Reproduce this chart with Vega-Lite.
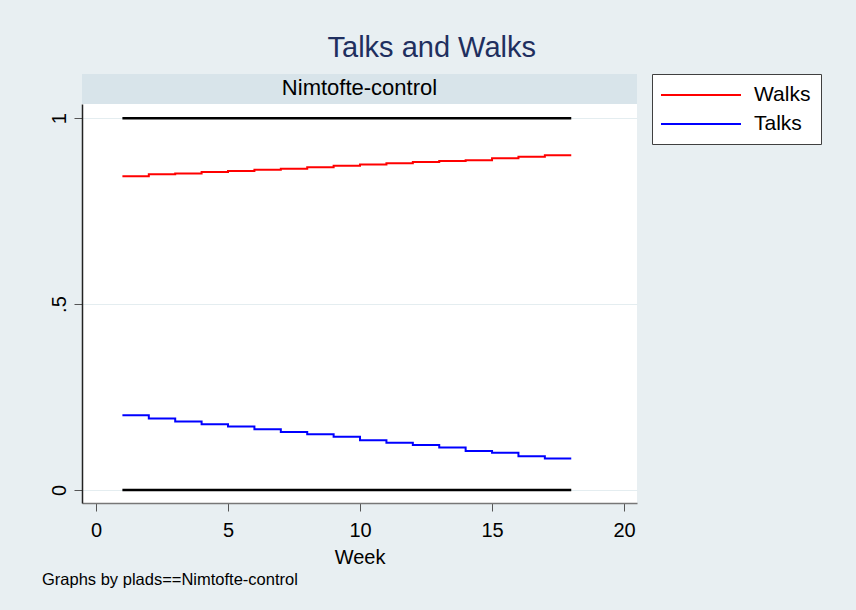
{
  "$schema": "https://vega.github.io/schema/vega-lite/v6.json",
  "background": "#e8eff2",
  "padding": {"left": 42, "top": 33, "right": 34, "bottom": 22},
  "title": {
    "text": "Talks and Walks",
    "fontSize": 29,
    "font": "Liberation Sans",
    "fontWeight": "normal",
    "color": "#1f2f5f",
    "anchor": "middle",
    "frame": "bounds",
    "offset": 11
  },
  "datasets": {
    "strip": [{"panel": "Nimtofte-control"}],
    "series": [
      {"series": "upper", "kind": "bound", "week": 1, "value": 1},
      {"series": "upper", "kind": "bound", "week": 18, "value": 1},
      {"series": "lower", "kind": "bound", "week": 1, "value": 0},
      {"series": "lower", "kind": "bound", "week": 18, "value": 0},
      {"series": "Walks", "kind": "rate", "week": 1, "value": 0.844},
      {"series": "Walks", "kind": "rate", "week": 2, "value": 0.849},
      {"series": "Walks", "kind": "rate", "week": 3, "value": 0.851},
      {"series": "Walks", "kind": "rate", "week": 4, "value": 0.855},
      {"series": "Walks", "kind": "rate", "week": 5, "value": 0.858},
      {"series": "Walks", "kind": "rate", "week": 6, "value": 0.861},
      {"series": "Walks", "kind": "rate", "week": 7, "value": 0.864},
      {"series": "Walks", "kind": "rate", "week": 8, "value": 0.868},
      {"series": "Walks", "kind": "rate", "week": 9, "value": 0.872},
      {"series": "Walks", "kind": "rate", "week": 10, "value": 0.875},
      {"series": "Walks", "kind": "rate", "week": 11, "value": 0.879},
      {"series": "Walks", "kind": "rate", "week": 12, "value": 0.882},
      {"series": "Walks", "kind": "rate", "week": 13, "value": 0.885},
      {"series": "Walks", "kind": "rate", "week": 14, "value": 0.887},
      {"series": "Walks", "kind": "rate", "week": 15, "value": 0.892},
      {"series": "Walks", "kind": "rate", "week": 16, "value": 0.896},
      {"series": "Walks", "kind": "rate", "week": 17, "value": 0.9},
      {"series": "Walks", "kind": "rate", "week": 18, "value": 0.9},
      {"series": "Talks", "kind": "rate", "week": 1, "value": 0.201},
      {"series": "Talks", "kind": "rate", "week": 2, "value": 0.192},
      {"series": "Talks", "kind": "rate", "week": 3, "value": 0.184},
      {"series": "Talks", "kind": "rate", "week": 4, "value": 0.177},
      {"series": "Talks", "kind": "rate", "week": 5, "value": 0.171},
      {"series": "Talks", "kind": "rate", "week": 6, "value": 0.163},
      {"series": "Talks", "kind": "rate", "week": 7, "value": 0.156},
      {"series": "Talks", "kind": "rate", "week": 8, "value": 0.15},
      {"series": "Talks", "kind": "rate", "week": 9, "value": 0.143},
      {"series": "Talks", "kind": "rate", "week": 10, "value": 0.134},
      {"series": "Talks", "kind": "rate", "week": 11, "value": 0.127},
      {"series": "Talks", "kind": "rate", "week": 12, "value": 0.121},
      {"series": "Talks", "kind": "rate", "week": 13, "value": 0.114},
      {"series": "Talks", "kind": "rate", "week": 14, "value": 0.105},
      {"series": "Talks", "kind": "rate", "week": 15, "value": 0.1},
      {"series": "Talks", "kind": "rate", "week": 16, "value": 0.091},
      {"series": "Talks", "kind": "rate", "week": 17, "value": 0.085},
      {"series": "Talks", "kind": "rate", "week": 18, "value": 0.085}
    ]
  },
  "spacing": 0,
  "vconcat": [
    {
      "width": 555,
      "height": 30,
      "view": {"fill": "#d8e4ea", "stroke": null},
      "data": {"name": "strip"},
      "mark": {"type": "text", "fontSize": 22, "font": "Liberation Sans", "color": "black", "baseline": "middle", "align": "center", "dy": -1},
      "encoding": {"text": {"field": "panel", "type": "nominal"}}
    },
    {
      "width": 555,
      "height": 399,
      "view": {"fill": "white", "stroke": null},
      "title": {
        "text": "Graphs by plads==Nimtofte-control",
        "orient": "bottom",
        "anchor": "start",
        "frame": "group",
        "fontSize": 16.5,
        "font": "Liberation Sans",
        "fontWeight": "normal",
        "color": "black",
        "dx": -40,
        "offset": 5
      },
      "data": {"name": "series"},
      "encoding": {
        "x": {
          "field": "week",
          "type": "quantitative",
          "scale": {"domain": [-0.53, 20.49], "nice": false, "zero": false},
          "axis": {
            "title": "Week",
            "values": [0, 5, 10, 15, 20],
            "grid": false,
            "domainColor": "#777777",
            "domainWidth": 1.5,
            "tickColor": "#555555",
            "tickSize": 8,
            "labelPadding": 9,
            "titlePadding": 7
          }
        },
        "y": {
          "field": "value",
          "type": "quantitative",
          "scale": {"domain": [-0.035, 1.038], "nice": false, "zero": false},
          "axis": {
            "title": null,
            "values": [0, 0.5, 1],
            "labelExpr": "datum.value == 0.5 ? '.5' : datum.value == 1 ? '1' : '0'",
            "labelAngle": -90,
            "labelAlign": "center",
            "labelBaseline": "bottom",
            "labelPadding": 5,
            "grid": true,
            "gridColor": "#e4edf0",
            "domainColor": "#222222",
            "domainWidth": 1.5,
            "tickColor": "#555555",
            "tickSize": 8
          }
        }
      },
      "layer": [
        {
          "transform": [{"filter": "datum.kind == 'bound'"}],
          "mark": {"type": "line", "color": "black", "strokeWidth": 2.5},
          "encoding": {"detail": {"field": "series", "type": "nominal"}}
        },
        {
          "transform": [{"filter": "datum.kind == 'rate'"}],
          "mark": {"type": "line", "interpolate": "step-after", "strokeWidth": 2},
          "encoding": {
            "color": {
              "field": "series",
              "type": "nominal",
              "scale": {"domain": ["Walks", "Talks"], "range": ["#ff0000", "#0000ff"]},
              "legend": {"title": null}
            }
          }
        }
      ]
    }
  ],
  "config": {
    "axis": {
      "labelFont": "Liberation Sans",
      "titleFont": "Liberation Sans",
      "labelFontSize": 20,
      "titleFontSize": 20,
      "titleFontWeight": "normal",
      "labelColor": "black",
      "titleColor": "black"
    },
    "legend": {
      "orient": "right",
      "offset": 15,
      "strokeColor": "#404040",
      "fillColor": "white",
      "padding": 10,
      "labelFont": "Liberation Sans",
      "labelFontSize": 21,
      "labelColor": "black",
      "symbolType": "M-4,0H4",
      "symbolSize": 400,
      "symbolStrokeWidth": 2,
      "symbolOffset": 28,
      "labelOffset": 42,
      "rowPadding": 8
    }
  }
}
